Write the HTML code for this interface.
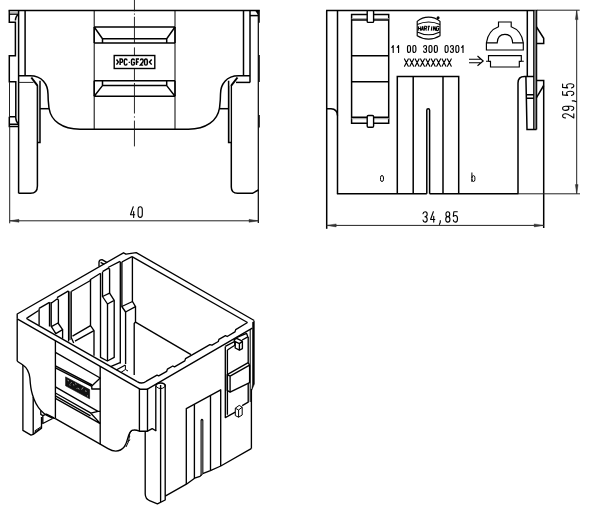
<!DOCTYPE html>
<html><head><meta charset="utf-8"><title>drawing</title>
<style>
html,body{margin:0;padding:0;background:#fff}
svg{display:block}
.k{fill:none;stroke:#000;stroke-width:1.5}
.k1{fill:none;stroke:#000;stroke-width:1.2}
.k2{fill:none;stroke:#000;stroke-width:1.15}
.t{fill:none;stroke:#222;stroke-width:1}
.t2{fill:none;stroke:#000;stroke-width:1}
.gf{fill:none;stroke:#bbb;stroke-width:2.2}
.gf2{fill:none;stroke:#c4c4c4;stroke-width:1.6}
.gfd{fill:none;stroke:#777;stroke-width:1.8}
.kd{fill:none;stroke:#000;stroke-width:2}
.gf3{fill:none;stroke:#aaa;stroke-width:1.6}
.cl{fill:none;stroke:#111;stroke-width:.9}
.arr{fill:#333;stroke:#333;stroke-width:.4}
.fill{fill:#000;stroke:none}
.tx{fill:none;stroke:#000;stroke-linecap:round;stroke-linejoin:round}
.tx path,.txb path{vector-effect:non-scaling-stroke}
.txb{fill:none;stroke:#000;stroke-linecap:butt;stroke-linejoin:miter}
.i{fill:none;stroke:#000;stroke-width:1.35;stroke-linejoin:round}
.i2{fill:none;stroke:#000;stroke-width:1.0;stroke-linejoin:round}
.ig{fill:none;stroke:#666;stroke-width:1.6}
.igd{fill:none;stroke:#555;stroke-width:1.8}
.blk2{fill:#000;stroke:#000;stroke-width:.5}
.spk{fill:none;stroke:#bbb;stroke-width:.8}
.blk{fill:#111;stroke:#000;stroke-width:.6}
</style></head>
<body>
<svg width="600" height="522" viewBox="0 0 600 522" style="font-family:'Liberation Sans',sans-serif">
<rect width="600" height="522" fill="#fff"/>
<path class="k" d="M8.6,10.4L259.8,10.4"/>
<path class="k" d="M9.3,10.4V22.2H15.4V55.8H9.3V81.7H15.8V118Q16,122 18.4,123.6"/>
<path class="k" d="M9.3,14.1H18.4"/>
<path class="k" d="M18.4,14.3Q15.6,16 15.4,20.5"/>
<path class="gf" d="M9.9,12.3H18"/>
<path class="k" d="M9.3,116.7V126.6H18.4M9.3,116.7H15.8M9.3,124.2H18.4"/>
<path class="t" d="M9.5,82L9.5,117"/>
<path class="k" d="M18.6,10.4L18.6,193.3"/>
<path class="k" d="M25.1,10.4L25.1,75.8"/>
<path class="k" d="M18.6,75.8H30C42,75.8 48,84 48,94C48,100 48.3,102 49,108C51,121 62,129.2 80,129.2H188.4C206,129.2 217.5,121 219.5,108C220.2,102 220.5,100 220.5,94C220.5,84 226.5,75.8 238.5,75.8H250"/>
<path class="t" d="M18.6,82.4L33.5,82.4"/>
<path class="k" d="M37.4,85V186Q37.4,193.3 30.5,193.3H18.6"/>
<path class="kd" d="M31.3,77.5L37.3,85.4"/>
<path class="gf2" d="M38.75,86L38.75,142"/>
<path class="k" d="M40,80.8V142.4H37.4"/>
<path class="k" d="M40.1,108.7L49.2,108.7"/>
<path class="k" d="M243.5,10.4L243.5,75.8"/>
<path class="k" d="M250,10.4L250,82.4"/>
<path class="k" d="M236,82.4L250,82.4"/>
<path class="k" d="M231.3,85V187Q231.3,193.3 237.5,193.3H252.5L258.4,190"/>
<path class="kd" d="M237.5,77.5L231.4,85.4"/>
<path class="gf2" d="M229.95,86L229.95,142"/>
<path class="k" d="M228.6,80.8V142.4H231.3"/>
<path class="k" d="M219.4,108.7L228.6,108.7"/>
<path class="k1" d="M258.3,10.4L258.3,223"/>
<path class="k2" d="M259.2,10.4V22.8M259.2,55V82M259.2,115V127.5"/>
<path class="k" d="M250,15.6L258.4,15.6"/>
<path class="fill" d="M255.3,10.8L258.4,15.6L258.4,10.8Z"/>
<path class="t2" d="M94.2,10.4L94.2,129.2"/>
<path class="t2" d="M175,10.4L175,129.2"/>
<path class="k" d="M94.2,27H175M94.2,43H175M102.5,38.7H166.7M94.2,27L102.5,38.7V43M175,27L166.7,38.7V43"/>
<path class="k" d="M94.2,27L94.2,43"/>
<path class="k" d="M175,27L175,43"/>
<path class="k" d="M94.2,80.8H175M94.2,96.3H175M102.5,85.6H166.7M94.2,96.3L102.5,85.6V80.8M175,96.3L166.7,85.6V80.8"/>
<path class="k" d="M94.2,80.8L94.2,96.3"/>
<path class="k" d="M175,80.8L175,96.3"/>
<path class="cl" d="M134.45,0L134.45,11.3"/>
<path class="cl" d="M134.45,13.5L134.45,14.7"/>
<path class="cl" d="M134.45,16.8L134.45,43.2"/>
<path class="cl" d="M134.45,47.4L134.45,55"/>
<path class="cl" d="M134.45,69L134.45,80.4"/>
<path class="cl" d="M134.45,83L134.45,113.5"/>
<path class="cl" d="M134.45,116.4L134.45,117.6"/>
<path class="cl" d="M134.45,120.6L134.45,146.4"/>
<rect class="k" x="114.2" y="55.5" width="40.6" height="13" style="fill:#fff;stroke-width:1.4"/>
<g class="txb" style="stroke-width:1.45"><path d="M.05,.08L.95,.5L.05,.92" transform="translate(116.4,59) skewX(0) scale(2.1,6.1)"/><path d="M0,1L0,0L.55,0Q1,0 1,.27Q1,.55 .55,.55L0,.55" transform="translate(120.1,59) skewX(0) scale(2.6,6.1)"/><path d="M1,.25Q1,0 .5,0Q0,0 0,.27L0,.73Q0,1 .5,1Q1,1 1,.75" transform="translate(124.3,59) skewX(0) scale(2.7,6.1)"/><path d="M.1,.55L.9,.55" transform="translate(128.5,59) skewX(0) scale(1.6,6.1)"/><path d="M1,.25Q1,0 .5,0Q0,0 0,.27L0,.73Q0,1 .5,1Q1,1 1,.73L1,.55L.55,.55" transform="translate(131.5,59) skewX(0) scale(2.9,6.1)"/><path d="M1,0L0,0L0,1M0,.5L.8,.5" transform="translate(136.5,59) skewX(0) scale(2.5,6.1)"/><path d="M0,.25Q0,0 .5,0Q1,0 1,.27Q1,.45 .5,.7L0,1L1,1" transform="translate(140.4,59) skewX(0) scale(2.8,6.1)"/><path d="M0,.27Q0,0 .5,0Q1,0 1,.27L1,.73Q1,1 .5,1Q0,1 0,.73Z" transform="translate(144.5,59) skewX(0) scale(2.8,6.1)"/><path d="M.95,.08L.05,.5L.95,.92" transform="translate(149.3,59) skewX(0) scale(2.5,6.1)"/></g>
<path class="t" d="M9.7,126.6L9.7,223.3"/>
<path class="t" d="M9.7,220.8L258.4,220.8"/>
<path class="arr" d="M9.7,220.8L19,219.3V222.3Z"/>
<path class="arr" d="M258.4,220.8L249,219.3V222.3Z"/>
<g class="tx" style="stroke-width:1.12" transform="translate(130.5,206.8)"><path d="M.65,0L0,.75L1,.75M.75,.45L.75,1" transform="translate(0.00,0) scale(4.2,10.6)"/><path d="M0,.27Q0,0 .5,0Q1,0 1,.27L1,.73Q1,1 .5,1Q0,1 0,.73Z" transform="translate(7.60,0) scale(4.2,10.6)"/></g>
<path class="k" d="M326.1,10.4L537.3,10.4"/>
<path class="k" d="M326.7,10.4L326.7,228.8"/>
<path class="k" d="M337.5,10.4L337.5,193.8"/>
<path class="k" d="M326.7,108.7H331Q337.3,109 337.5,115.5"/>
<path class="k" d="M336.9,193.8H426.8M429.6,193.8H518.6"/>
<path class="k" d="M351.6,14.4H388.7V123.3H351.6Z"/>
<path class="k" d="M351.7,55.8H388.7M351.7,81.8H388.7"/>
<path class="gf3" d="M351.7,18.7H388.7M351.7,118.5H388.7"/>
<path class="k" d="M351.7,19.9H388.7M351.7,117.2H388.7"/>
<rect class="k" x="367.2" y="10.6" width="6.4" height="11.8" rx="1" style="fill:#fff;stroke-width:1.4"/>
<rect class="k" x="367.2" y="115.5" width="6.4" height="11.7" rx="1.2" style="fill:#fff;stroke-width:1.4"/>
<path class="k" d="M397.3,193.8V76.4H458.7V193.8"/>
<path class="k" d="M413.2,76.4L413.2,193.8"/>
<path class="k" d="M443,76.4L443,193.8"/>
<path class="k" d="M426.8,193.8V110.2Q426.8,108.7 428.2,108.7Q429.6,108.7 429.6,110.2V193.8"/>
<g class="tx" style="stroke-width:1.15" transform="translate(391.4,45.5)"><path d="M.15,.28L.6,0L.6,1" transform="translate(0.00,0) scale(3.0,7.0)"/><path d="M.15,.28L.6,0L.6,1" transform="translate(5.37,0) scale(3.0,7.0)"/><path d="M0,.27Q0,0 .5,0Q1,0 1,.27L1,.73Q1,1 .5,1Q0,1 0,.73Z" transform="translate(16.11,0) scale(3.0,7.0)"/><path d="M0,.27Q0,0 .5,0Q1,0 1,.27L1,.73Q1,1 .5,1Q0,1 0,.73Z" transform="translate(21.48,0) scale(3.0,7.0)"/><path d="M0,.2Q.05,0 .5,0Q1,0 1,.25Q1,.48 .45,.48Q1,.48 1,.75Q1,1 .5,1Q.05,1 0,.8" transform="translate(32.22,0) scale(3.0,7.0)"/><path d="M0,.27Q0,0 .5,0Q1,0 1,.27L1,.73Q1,1 .5,1Q0,1 0,.73Z" transform="translate(37.59,0) scale(3.0,7.0)"/><path d="M0,.27Q0,0 .5,0Q1,0 1,.27L1,.73Q1,1 .5,1Q0,1 0,.73Z" transform="translate(42.96,0) scale(3.0,7.0)"/><path d="M0,.27Q0,0 .5,0Q1,0 1,.27L1,.73Q1,1 .5,1Q0,1 0,.73Z" transform="translate(53.70,0) scale(3.0,7.0)"/><path d="M0,.2Q.05,0 .5,0Q1,0 1,.25Q1,.48 .45,.48Q1,.48 1,.75Q1,1 .5,1Q.05,1 0,.8" transform="translate(59.07,0) scale(3.0,7.0)"/><path d="M0,.27Q0,0 .5,0Q1,0 1,.27L1,.73Q1,1 .5,1Q0,1 0,.73Z" transform="translate(64.44,0) scale(3.0,7.0)"/><path d="M.15,.28L.6,0L.6,1" transform="translate(69.81,0) scale(3.0,7.0)"/></g>
<g class="tx" style="stroke-width:1.15" transform="translate(404.5,58.9)"><path d="M0,0L1,1M1,0L0,1" transform="translate(0.00,0) scale(3.8,7.3)"/><path d="M0,0L1,1M1,0L0,1" transform="translate(5.37,0) scale(3.8,7.3)"/><path d="M0,0L1,1M1,0L0,1" transform="translate(10.74,0) scale(3.8,7.3)"/><path d="M0,0L1,1M1,0L0,1" transform="translate(16.11,0) scale(3.8,7.3)"/><path d="M0,0L1,1M1,0L0,1" transform="translate(21.48,0) scale(3.8,7.3)"/><path d="M0,0L1,1M1,0L0,1" transform="translate(26.85,0) scale(3.8,7.3)"/><path d="M0,0L1,1M1,0L0,1" transform="translate(32.22,0) scale(3.8,7.3)"/><path d="M0,0L1,1M1,0L0,1" transform="translate(37.59,0) scale(3.8,7.3)"/><path d="M0,0L1,1M1,0L0,1" transform="translate(42.96,0) scale(3.8,7.3)"/></g>
<g class="tx" style="stroke-width:1.0" transform="translate(380.5,172.9)"><path d="M1,.55Q1,.3 .5,.3Q0,.3 0,.55L0,.78Q0,1 .5,1Q1,1 1,.78Z" transform="translate(0.00,0) scale(3.0,8.6)"/></g>
<g class="tx" style="stroke-width:1.0" transform="translate(471.9,172.9)"><path d="M0,0L0,1M0,.55Q0,.32 .5,.32Q1,.32 1,.55L1,.78Q1,1 .5,1Q0,1 0,.78" transform="translate(0.00,0) scale(3.0,8.6)"/></g>
<path class="k2" d="M417.2,21.4A17.2,17.2 0 0 1 440,21.4V35.8A21.1,21.1 0 0 1 417.2,35.8Z"/>
<path class="k2" d="M417.2,24.5A28.7,28.7 0 0 1 440,24.5M417.2,31.9A25.8,25.8 0 0 0 440,31.9"/>
<circle cx="438.1" cy="17.7" r="1.5" fill="#000"/>
<g class="txb" style="stroke-width:1.1"><path d="M0,0L0,1M1,0L1,1M0,.5L1,.5" transform="translate(418.7,26.3) skewX(-8) scale(2.2,4.3)"/><path d="M0,1L.5,0L1,1M.2,.65L.8,.65" transform="translate(421.71999999999997,26.3) skewX(-8) scale(2.2,4.3)"/><path d="M0,1L0,0L.6,0Q1,0 1,.25Q1,.5 .6,.5L0,.5M.55,.5L1,1" transform="translate(424.74,26.3) skewX(-8) scale(2.2,4.3)"/><path d="M0,0L1,0M.5,0L.5,1" transform="translate(427.76,26.3) skewX(-8) scale(2.2,4.3)"/><path d="M.5,0L.5,1" transform="translate(430.78,26.3) skewX(-8) scale(2.2,4.3)"/><path d="M0,1L0,0L1,1L1,0" transform="translate(433.8,26.3) skewX(-8) scale(2.2,4.3)"/><path d="M1,.25Q1,0 .5,0Q0,0 0,.27L0,.73Q0,1 .5,1Q1,1 1,.73L1,.55L.55,.55" transform="translate(436.82,26.3) skewX(-8) scale(2.2,4.3)"/></g>
<path class="k2" d="M469,59.2H481M469,62.7H481M477.5,56L483.2,61L477.5,65.8"/>
<path class="k2" d="M498.5,26.8V22H511.2V26.8Q521.5,30.5 523.3,42.8V50H486.4V42.8Q488.2,30.5 498.5,26.8Z"/>
<path class="k2" d="M486.4,42.8H497.2Q497.6,34.4 504.9,34.4Q512.2,34.4 512.6,42.8H523.3"/>
<path class="k2" d="M486,61.2H488.5V55.6H521.3V61.2H523.8M521.3,61.4H519.3V67H490.5V61.4H488.5"/>
<path class="k" d="M527.3,10.4L527.3,76.6"/>
<path class="k" d="M533.9,10.4V129.5M536.5,10.4V129.5"/>
<path class="gfd" d="M535.2,10.4V129"/>
<path class="k" d="M536.5,27L543.7,38.3V43.5H536.5"/>
<path class="k" d="M518,193.8V83Q518,76.5 524.5,76.5H534"/>
<path class="k" d="M536.5,80.4H543.7V228"/>
<path class="k" d="M543.7,85.5L536.5,97.6"/>
<path class="k" d="M525.9,76.5L527,129.5H536.5"/>
<path class="k" d="M526.2,94.8H534M526.3,98.2H534"/>
<path class="t" d="M537,10.200000000000001L579.7,10.200000000000001"/>
<path class="t" d="M518.6,193.8L580,193.8"/>
<path class="t" d="M576.7,10.4L576.7,193.8"/>
<path class="arr" d="M576.7,10.4L575.3,19.6H578.1Z"/>
<path class="arr" d="M576.7,193.8L575.3,184.6H578.1Z"/>
<g class="tx" style="stroke-width:1.12" transform="translate(562.6,117.9) rotate(-90)"><path d="M0,.25Q0,0 .5,0Q1,0 1,.27Q1,.45 .5,.7L0,1L1,1" transform="translate(0.00,0) scale(4.1,11.2)"/><path d="M1,.3Q1,.56 .5,.56Q0,.56 0,.28Q0,0 .5,0Q1,0 1,.28L1,.73Q1,1 .5,1Q.05,1 0,.82" transform="translate(7.50,0) scale(4.1,11.2)"/><path d="M.5,.86L.5,1.02L.3,1.22" transform="translate(15.00,0) scale(4.1,11.2)"/><path d="M.95,0L.12,0L0,.45Q.25,.36 .5,.36Q1,.36 1,.68Q1,1 .5,1Q.05,1 0,.8" transform="translate(22.50,0) scale(4.1,11.2)"/><path d="M.95,0L.12,0L0,.45Q.25,.36 .5,.36Q1,.36 1,.68Q1,1 .5,1Q.05,1 0,.8" transform="translate(30.00,0) scale(4.1,11.2)"/></g>
<path class="t" d="M326.7,225.4L543.7,225.4"/>
<path class="arr" d="M326.7,225.4L336.2,223.9V226.9Z"/>
<path class="arr" d="M543.7,225.4L534.2,223.9V226.9Z"/>
<g class="tx" style="stroke-width:1.12" transform="translate(423,211.7)"><path d="M0,.2Q.05,0 .5,0Q1,0 1,.25Q1,.48 .45,.48Q1,.48 1,.75Q1,1 .5,1Q.05,1 0,.8" transform="translate(0.00,0) scale(4.2,10.4)"/><path d="M.65,0L0,.75L1,.75M.75,.45L.75,1" transform="translate(7.58,0) scale(4.2,10.4)"/><path d="M.5,.86L.5,1.02L.3,1.22" transform="translate(15.16,0) scale(4.2,10.4)"/><path d="M.5,0Q.95,0 .95,.24Q.95,.47 .5,.47Q.05,.47 .05,.24Q.05,0 .5,0M.5,.47Q1,.47 1,.74Q1,1 .5,1Q0,1 0,.74Q0,.47 .5,.47" transform="translate(22.74,0) scale(4.2,10.4)"/><path d="M.95,0L.12,0L0,.45Q.25,.36 .5,.36Q1,.36 1,.68Q1,1 .5,1Q.05,1 0,.8" transform="translate(30.32,0) scale(4.2,10.4)"/></g>
<path class="i" d="M17.2,318.5V314L123.5,252.8L126,254.2L136.2,252.6L254.2,320.5"/>
<path class="i" d="M99,266.5V262Q99.2,259.7 102,259.6L107.2,262.6"/>
<path class="i" d="M100.6,262.4L104.2,264.4"/>
<path class="i" d="M27.4,319.2Q26.2,318.4 27.6,317.6L38.6,310.5M39.1,308.4L49.5,302.3M51.2,303.2L57,299L58.4,299.4M57,297.6L68.5,290.9M71.2,291.5L90.5,280.5V279.5L100.5,273.3M102.5,271.6L108,268.3L110,269.2M108,267.5L120,261.3M121.8,262L132,256.6"/>
<path class="i" d="M132,256.6L247.5,322.5"/>
<path class="i" d="M247.5,322.5L235.7,329.7L234.9,331.9L227.2,336.5L225.5,335.6L218.9,339.4L218.3,341.5L212,345.2L209.9,344.6L191.7,355.1L185.5,358.7L184.8,360.9L174.5,366.9L172.8,366L167.4,369.1L166.7,371.3L158.7,375.9L157,375.1L146.4,381.2Q141.8,384.6 137.2,381.6"/>
<path class="i" d="M27.4,319.2L137.2,381.6"/>
<path class="i" d="M17.2,318.8L140,389.2H147.5L252.3,328.2"/>
<path class="i" d="M251.4,389V448.7"/>
<path class="blk2" d="M252.5,322.2L254.4,321V384L251.6,390.5L252.5,384Z"/>
<path class="i2" d="M250.2,329V402"/>
<path class="i" d="M39.1,308.4L39.1,325.3"/>
<path class="i" d="M49.5,302.2V326.4M51.2,302V326.6"/>
<path class="i" d="M58.4,299.4L58.4,323"/>
<path class="i" d="M51.4,326.6L58,323L62.6,329.6L55.8,333.6Z"/>
<path class="i" d="M62.6,329.6L62.6,338.6"/>
<path class="i" d="M68.6,290.9V341.6M71.2,291.5V337.5L73.7,343"/>
<path class="igd" d="M69.9,291.5L69.9,340"/>
<path class="i" d="M72.5,336.2L90.5,325.6M75,341.2L94,330.6"/>
<path class="i" d="M90.5,279.6V325.6L94,330.6V355.8"/>
<path class="i" d="M100.5,273.2V357.4L107.4,361L114.2,357.4V300.4M102.5,272V296.5"/>
<path class="i" d="M109.6,269.2L109.6,293.2"/>
<path class="i" d="M102.5,296.5L109.6,293.2L114.2,300.4L107.5,304Z"/>
<path class="i" d="M107.5,304L107.5,361"/>
<path class="i" d="M120.3,261.5V363.4M121.9,262V306.5"/>
<path class="i" d="M132.4,256.8L132.4,301.6"/>
<path class="i" d="M121.8,306.5L132.5,301.5L135.5,306.6L125.6,312Z"/>
<path class="i" d="M125.6,312V364M135.5,306.6V322L134.2,323.5V375"/>
<path class="i" d="M110.6,366.6L120,362.6M116.2,370L125.4,365"/>
<path class="i2" d="M125.4,365.2V369.5L128,371M121,372.4L125.4,369.5"/>
<path class="i" d="M135.5,322.2L191,354.6"/>
<path class="i" d="M17.2,318.5L17.2,361.2"/>
<path class="i" d="M17.2,361.2L22.6,364.8Q28.8,369 29.9,378C30.2,383 30.6,389 32.4,394.5C36,407 44,416.5 55.4,418.6"/>
<path class="i" d="M22.9,365V430.4L31,435.1L33.2,434.4V397"/>
<path class="i" d="M33.2,434.4L41.5,428.3V417"/>
<path class="i2" d="M34.6,432.2L41,428M34.6,431L41,426.8"/>
<path class="i" d="M40.8,410.6V414.4L42.8,415.6V423.5L52.6,418.5"/>
<path class="i" d="M42.8,415.6L46.4,414.2L54,417.8"/>
<path class="i" d="M55.4,340.8L55.4,418.6"/>
<path class="i" d="M100.2,366L100.2,444.2"/>
<path class="i" d="M55.4,418.6L100.2,444.2L108,448.7Q118,454.5 124.5,446.5C128.5,441 127.5,432.5 132,430.4Q135,429.2 139.4,431.2H147.5L152.2,428.6L156.3,431"/>
<path class="i2" d="M126,447Q129.6,441.5 129.4,435Q129.6,431.6 132.6,430.3"/>
<path class="i2" d="M127.4,441.5L130.2,439.8M128.4,437.5L130.2,436.4"/>
<path class="i" d="M55.4,352.4L100.2,378L91.8,386V389H100.2"/>
<path class="i" d="M55.4,365.8L92,384.8M55.4,367.9L91.8,386.4"/>
<path class="blk" d="M65.6,376.9L89.6,389.6V398.8L65.6,385.8Z"/>
<path class="spk" d="M67.5,380.2L69,381M70.5,383.5L71.6,382.2M73,384.6L74.2,385.2M75.5,383.4L76,384.6M78,388.4L79.4,389.2M81.6,389.6L83,387.4M85.6,390.4L86.2,392M87,395.6L88,396.2M69.4,384.8L70.4,385.2M76.8,388.8L77.6,387.8"/>
<path class="i" d="M55.4,386.8L98,411.4L100.2,411.4M55.4,393L91,413.2M55.4,395.8L90.5,415.8M55.4,398.3L100.2,423.6M98,411.4L90.8,413.2L100.2,423.4"/>
<path class="i" d="M139.4,388.6V431.2M147.5,388.6V431.2"/>
<path class="i" d="M145.2,432V494Q145.4,499 149.5,500.6L157.4,503.8L165.2,500V384.6"/>
<path class="i" d="M160.6,385V502"/>
<path class="i" d="M155.8,430.8V386.2Q155.8,383 160.6,383Q165.4,383 165.2,386.4"/>
<path class="i2" d="M155.8,386.2Q160.6,391 165.2,386.4"/>
<path class="i" d="M165.2,496.2L186.4,484.2L194.6,478.2L200,476.4L202.6,473.6L210.4,470.6L220.8,466L251.2,448.7"/>
<path class="i" d="M186.3,484V408.6L220.7,389.8V466"/>
<path class="i" d="M194.4,478.4V404.2M210.5,470.6V395.4"/>
<path class="i" d="M201.2,475.6V420.2Q201.9,418.8 202.7,420.2V473.6"/>
<path class="igd" d="M201.95,420.5L201.95,474.5"/>
<path class="i" d="M225.3,346.4V417.6L235.3,412.2M227.4,350V414.8"/>
<path class="i" d="M225.3,346.4L234.8,341.4V345.2L227.4,350"/>
<path class="i" d="M237,337.4L246.6,333.4L247.8,336.8L242.2,340"/>
<path class="i" d="M248.2,337V362.6M248.2,383.2V402.2L242.2,405.6"/>
<path class="i" d="M233.8,339.8L236.6,338.4L242.4,341.2V348.6L239.4,350.2L235.2,348V341.6L233.8,339.8M235.2,341.6L239.4,343.6L242.4,341.2M239.4,343.6V350.2"/>
<path class="i" d="M227.2,374.6L248.2,362.6L249.6,365.2L230.1,376.2ZM230.1,376.2V392.2L249.6,382.6V365.2M227.2,374.6V390.4L230.1,392.2"/>
<path class="i2" d="M235.3,408.2V415.6L238.6,417.2L242.2,415V407.2L239.2,405.4L235.3,408.2L238.6,410V417.2M238.6,410L242.2,407.2"/>
</svg>
</body></html>
